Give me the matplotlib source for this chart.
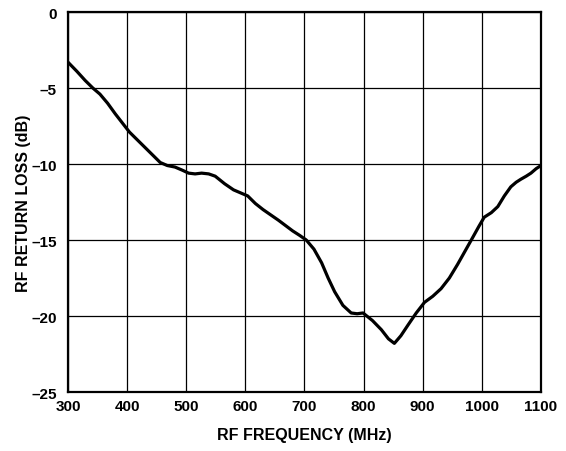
import matplotlib.pyplot as plt

plt.rcParams['font.family'] = ['Liberation Sans', 'DejaVu Sans']
plt.rcParams['font.weight'] = 'bold'

freq_mhz = [300, 315, 329, 342, 354, 367, 380, 392, 404, 417, 430, 443, 456,
            468, 481, 493, 504, 515, 526, 538, 549, 565, 580, 592, 604, 617,
            630, 643, 656, 668, 680, 692, 703, 716, 729, 740, 751, 765, 779,
            789, 799, 815, 830, 842, 852, 863, 875, 889, 903, 917, 931, 945,
            959, 972, 985, 995, 1004, 1016, 1027, 1038, 1049, 1058, 1066, 1075,
            1083, 1092, 1100]
return_loss_db = [-3.3, -3.9, -4.5, -5.0, -5.4, -6.0, -6.7, -7.3, -7.9, -8.4,
                  -8.9, -9.4, -9.9, -10.1, -10.2, -10.4, -10.6, -10.65, -10.6,
                  -10.65, -10.8, -11.3, -11.7, -11.9, -12.1, -12.6, -13.0,
                  -13.35, -13.7, -14.05, -14.4, -14.7, -15.0, -15.6, -16.5,
                  -17.5, -18.4, -19.3, -19.8, -19.85, -19.8, -20.3, -20.9,
                  -21.5, -21.8, -21.3, -20.6, -19.8, -19.1, -18.7, -18.2, -17.5,
                  -16.6, -15.7, -14.8, -14.1, -13.5, -13.2, -12.8, -12.1, -11.5,
                  -11.2, -11.0, -10.8, -10.6, -10.3, -10.1]

x_ticks = [300, 400, 500, 600, 700, 800, 900, 1000, 1100]
y_ticks = [0, -5, -10, -15, -20, -25]

fig = plt.figure(figsize=(5.66, 4.52), dpi=100)
ax = fig.add_axes([0.1201, 0.1305, 0.8357, 0.8407])

ax.plot(freq_mhz, return_loss_db, color='black', linewidth=2.3,
        solid_capstyle='round', solid_joinstyle='round', zorder=3)

ax.set_xlim(300, 1100)
ax.set_ylim(-25, 0)
ax.set_xticks(x_ticks)
ax.set_yticks(y_ticks)
ax.set_xticklabels([str(t) for t in x_ticks], fontsize=11, fontweight='bold')
ax.set_yticklabels([str(t).replace('-', '\u2013') for t in y_ticks],
                   fontsize=11, fontweight='bold')
ax.tick_params(axis='x', length=0, pad=5)
ax.tick_params(axis='y', length=0, pad=8)
ax.grid(True, color='black', linewidth=0.9)

for s in ax.spines.values():
    s.set_linewidth(1.6)

ax.set_xlabel('RF FREQUENCY (MHz)', fontsize=11.5, fontweight='bold', labelpad=10)
ax.set_ylabel('RF RETURN LOSS (dB)', fontsize=11.5, fontweight='bold', labelpad=0.5)

fig.savefig('out.png', dpi=100)
